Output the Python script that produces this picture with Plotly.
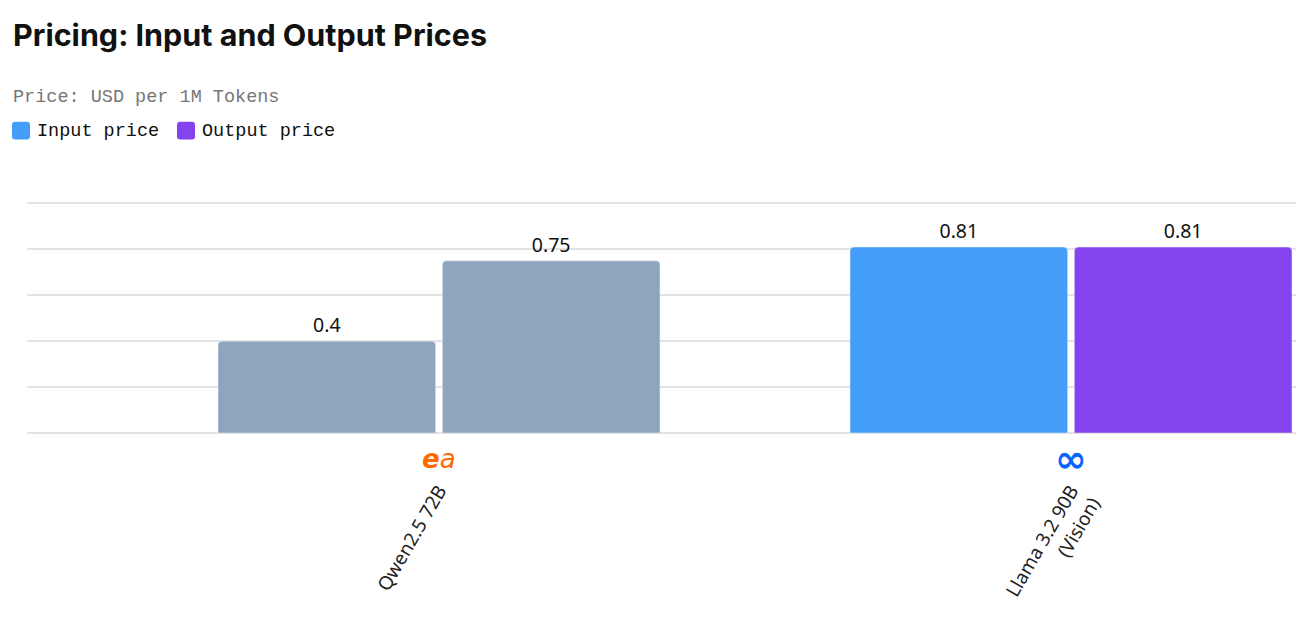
import plotly.graph_objects as go

models = ["Qwen2.5 72B", "Llama 3.2 90B<br>(Vision)"]
input_price = [0.4, 0.81]
output_price = [0.75, 0.81]
input_colors = ["#8fa5bd", "#449ef9"]
output_colors = ["#8fa5bd", "#8543f0"]
logo_text = ["<i><b>e</b>a</i>", "<b>∞</b>"]
logo_colors = ["#ff6a00", "#0866ff"]
logo_sizes = [26, 38]

W, H = 1296, 644
PL, PR = 27, 1296
PB, PT = 433, 191.5

def px(x):
    return (x - PL) / (PR - PL)

def py(y):
    return (PB - y) / (PB - PT)

def rrect(x0, y0, x1, y1, r):
    # rounded rectangle path in paper coords from pixel values
    X = lambda v: px(v)
    Y = lambda v: py(v)
    return (f"M {X(x0+r)},{Y(y0)} L {X(x1-r)},{Y(y0)} Q {X(x1)},{Y(y0)} {X(x1)},{Y(y0+r)} "
            f"L {X(x1)},{Y(y1-r)} Q {X(x1)},{Y(y1)} {X(x1-r)},{Y(y1)} "
            f"L {X(x0+r)},{Y(y1)} Q {X(x0)},{Y(y1)} {X(x0)},{Y(y1-r)} "
            f"L {X(x0)},{Y(y0+r)} Q {X(x0)},{Y(y0)} {X(x0+r)},{Y(y0)} Z")

fig = go.Figure()
label_font = dict(family="Noto Sans, Inter, sans-serif", size=19.5, color="#111")
fig.add_trace(go.Bar(x=models, y=input_price, name="Input price",
                     marker=dict(color=input_colors, cornerradius=4),
                     text=[str(v) for v in input_price], textposition="outside",
                     textfont=label_font, showlegend=False))
fig.add_trace(go.Bar(x=models, y=output_price, name="Output price",
                     marker=dict(color=output_colors, cornerradius=4),
                     text=[str(v) for v in output_price], textposition="outside",
                     textfont=label_font, showlegend=False))

mono = "Liberation Mono, DejaVu Sans Mono, monospace"
annotations = [
    dict(text="<b>Pricing: Input and Output Prices</b>", xref="paper", yref="paper",
         x=px(11), y=py(34), xanchor="left", yanchor="middle", showarrow=False,
         font=dict(family="Inter, Lato, sans-serif", size=30.5, color="#111")),
    dict(text="Price: USD per 1M Tokens", xref="paper", yref="paper",
         x=px(11), y=py(97), xanchor="left", yanchor="middle", showarrow=False,
         font=dict(family=mono, size=18.5, color="#777")),
    dict(text="Input price", xref="paper", yref="paper",
         x=px(35), y=py(131), xanchor="left", yanchor="middle", showarrow=False,
         font=dict(family=mono, size=18.5, color="#111")),
    dict(text="Output price", xref="paper", yref="paper",
         x=px(200), y=py(131), xanchor="left", yanchor="middle", showarrow=False,
         font=dict(family=mono, size=18.5, color="#111")),
]
for m, t, c, s in zip(models, logo_text, logo_colors, logo_sizes):
    annotations.append(dict(text=t, x=m, xref="x", yref="paper", y=py(459),
                            xanchor="center", yanchor="middle", showarrow=False,
                            font=dict(family="DejaVu Sans, sans-serif", size=s, color=c)))

shapes = [
    dict(type="path", xref="paper", yref="paper", path=rrect(12, 121, 30, 139, 3),
         fillcolor="#449ef9", line=dict(width=0), layer="above"),
    dict(type="path", xref="paper", yref="paper", path=rrect(177, 121, 195, 139, 3),
         fillcolor="#8543f0", line=dict(width=0), layer="above"),
]

fig.update_layout(
    width=W, height=H,
    margin=dict(l=PL, r=W - PR, t=PT, b=H - PB, pad=0),
    paper_bgcolor="white", plot_bgcolor="white",
    barmode="group", bargap=0.29, bargroupgap=0.03,
    annotations=annotations, shapes=shapes,
    xaxis=dict(range=[-(439 - PL) / 632, 1 + (PR - 1071) / 632], tickangle=-60,
               ticklabelstandoff=42, showgrid=False, showline=False, ticks="",
               tickfont=dict(family="Noto Sans, sans-serif", size=19, color="#222")),
    yaxis=dict(range=[0, 1.05], dtick=0.2, showticklabels=False, showgrid=True,
               gridcolor="#e3e3e3", gridwidth=1.5, zeroline=True, zerolinecolor="#e3e3e3",
               zerolinewidth=1.5, showline=False, ticks=""),
    showlegend=False,
)

fig.write_html("out.html")
